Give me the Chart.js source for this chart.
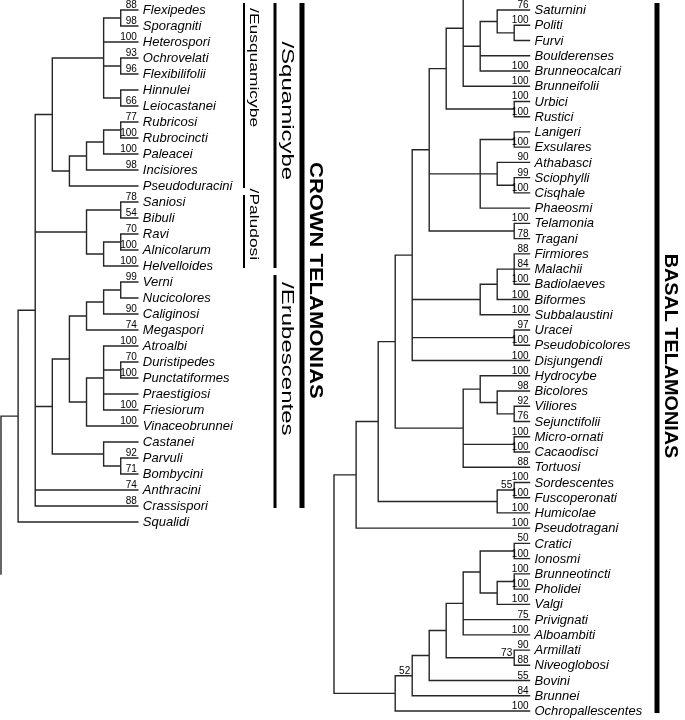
<!DOCTYPE html>
<html><head><meta charset="utf-8">
<script src="https://cdn.jsdelivr.net/npm/chart.js@4.4.1/dist/chart.umd.min.js"></script>
<style>html,body{margin:0;padding:0;background:#fff;}#wrap{width:685px;height:720px;position:relative;}</style>
</head><body><div id="wrap"><canvas id="c" width="685" height="720"></canvas></div>
<script>
// ---------- DATA ----------
const leftTaxa = ["Flexipedes","Sporagniti","Heterospori","Ochrovelati","Flexibilifolii","Hinnulei","Leiocastanei","Rubricosi","Rubrocincti","Paleacei","Incisiores","Pseudoduracini","Saniosi","Bibuli","Ravi","Alnicolarum","Helvelloides","Verni","Nucicolores","Caliginosi","Megaspori","Atroalbi","Duristipedes","Punctatiformes","Praestigiosi","Friesiorum","Vinaceobrunnei","Castanei","Parvuli","Bombycini","Anthracini","Crassispori","Squalidi"];
const leftSupport = [88,98,100,93,96,null,66,77,100,100,98,null,78,54,70,100,100,99,null,90,74,100,70,100,null,100,100,null,92,71,74,88,null];
// node = [depth, nodeSupport, ...children]; child = leaf index, sub-node, or {off: leaf position} (branch leaving the panel)
const leftTree =
[0,null,
  [1,null,
    [2,null,
      [3,null,
        [6,null,[7,null,0,1],2,[7,null,3,4],[7,null,5,6]],
        [4,null,[5,null,[6,null,[7,null,7,8],9],10],11]],
      [5,null,[7,null,12,13],[6,null,[7,null,14,15],16]],
      [3,null,
        [4,null,
          [5,null,[6,null,[7,null,17,18],19],20],
          [5,null,[6,null,21,[7,null,22,23],24,25],26]],
        [6,null,27,[7,null,28,29]]],
      30,31],
    32],
  {off:35.25}];
const leftTipDepth = 8;

const rightTaxa = ["Saturnini","Politi","Furvi","Boulderenses","Brunneocalcari","Brunneifolii","Urbici","Rustici","Lanigeri","Exsulares","Athabasci","Sciophylli","Cisqhale","Phaeosmi","Telamonia","Tragani","Firmiores","Malachii","Badiolaeves","Biformes","Subbalaustini","Uracei","Pseudobicolores","Disjungendi","Hydrocybe","Bicolores","Viliores","Sejunctifolii","Micro-ornati","Cacaodisci","Tortuosi","Sordescentes","Fuscoperonati","Humicolae","Pseudotragani","Cratici","Ionosmi","Brunneotincti","Pholidei","Valgi","Privignati","Alboambiti","Armillati","Niveoglobosi","Bovini","Brunnei","Ochropallescentes"];
const rightSupport = [76,100,null,null,100,100,100,100,null,100,90,99,100,null,100,78,88,84,100,100,100,97,100,100,100,98,92,76,100,100,88,100,100,100,100,50,100,100,100,100,75,100,90,88,55,84,100];
const rightTree =
[0,null,
  [1.3,null,
    [2.6,null,
      [3.6,null,
        [4.6,null,
          [5.6,null,
            [6.6,null,
              [7.6,null,{off:-2.6},
                [8.6,null,[9.6,null,0,[10.6,null,1,2]],3,4],
                5],
              [10.6,null,6,7]],
            [8.6,null,[10.6,null,8,9],[9.6,null,10,[10.6,null,11,12]],13],
            [10.6,null,14,15]],
          [8.6,null,[9.6,null,[10.6,null,16,17,18],19],20],
          [10.6,null,21,22],
          23],
        [7.6,null,
          [8.6,null,24,[9.6,null,25,[10.6,null,26,27]]],
          [10.6,null,28,29],
          30]],
      [9.6,null,[10.6,55,31,32],33]],
    34],
  [3.6,null,
    [4.6,52,
      [5.6,null,
        [6.6,null,
          [7.6,null,
            [8.6,null,[10.6,null,35,36],[9.6,null,[10.6,null,37,38],39]],
            40,41],
          [10.6,73,42,43]],
        44],
      45],
    46]];
const rightTipDepth = 11.5;

// clade bars: name, first leaf, last leaf
const leftClades = [
  {name:"/Eusquamicybe", first:0, last:11, level:1},
  {name:"/Paludosi", first:12, last:16, level:1},
  {name:"/Squamicybe", first:0, last:16, level:2},
  {name:"/Erubescentes", first:17, last:31, level:2},
  {name:"CROWN TELAMONIAS", first:0, last:31, level:3}
];
const rightClades = [
  {name:"BASAL TELAMONIAS", first:0, last:46, level:3}
];

// ---------- LAYOUT (from the data) ----------
function layout(tree, tipDepth){
  const segs = [], nodeLabels = [];
  function walk(n){
    if (typeof n === 'number') return {y:n, d:tipDepth};
    if (n.off !== undefined) return {y:n.off, d:null, off:true};
    const d = n[0], sup = n[1];
    const kids = n.slice(2).map(walk);
    const ys = kids.map(k=>k.y);
    const y = (kids[0].y + kids[kids.length-1].y)/2;
    segs.push({x:d,y:Math.min(...ys)},{x:d,y:Math.max(...ys)},{x:null,y:null});
    kids.forEach(k=>{ if(!k.off) segs.push({x:d,y:k.y},{x:k.d,y:k.y},{x:null,y:null}); });
    if (sup !== null) nodeLabels.push({d:d, y:y, text:String(sup)});
    return {y:y, d:d};
  }
  walk(tree);
  return {segs, nodeLabels};
}
const L = layout(leftTree, leftTipDepth);
const R = layout(rightTree, rightTipDepth);

// ---------- DRAW ----------
const LINE = '#262626';
const FONT = '"Liberation Sans", Arial, sans-serif';
const cladeStyle = {
  left: {1:{bar:244,w:2,base:250,size:12,weight:'normal',stretch:1.45},
         2:{bar:275,w:3,base:282,size:16,weight:'normal',stretch:1.5},
         3:{bar:302,w:5,base:310,size:18,weight:'bold',stretch:1.22}},
  right:{3:{bar:657,w:5,base:665,size:18,weight:'bold',stretch:1.1}}
};
const labelCenter = {"/Eusquamicybe":3.6,"/Paludosi":13.4,"/Squamicybe":6.3,"/Erubescentes":21.8,"CROWN TELAMONIAS":16.9,"BASAL TELAMONIAS":22.7};

function drawSide(ctx, xs, ys, lay, taxa, support, tipDepth, clades, style){
  const tipX = xs.getPixelForValue(tipDepth);
  ctx.save();
  ctx.fillStyle = '#000';
  ctx.textBaseline = 'middle';
  ctx.textAlign = 'left';
  ctx.font = 'italic 13px ' + FONT;
  taxa.forEach((t,i)=>{ ctx.fillText(t, tipX + 5, ys.getPixelForValue(i) + 0.5); });
  ctx.font = '10px ' + FONT;
  ctx.textAlign = 'right';
  ctx.textBaseline = 'alphabetic';
  support.forEach((s,i)=>{ if(s!==null) ctx.fillText(String(s), tipX - 1, ys.getPixelForValue(i) - 2); });
  lay.nodeLabels.forEach(nl=>{ ctx.fillText(nl.text, xs.getPixelForValue(nl.d) - 2, ys.getPixelForValue(nl.y) - 2); });
  // clade bars
  clades.forEach(c=>{
    const st = style[c.level];
    const y0 = ys.getPixelForValue(c.first) - 7, y1 = ys.getPixelForValue(c.last) + 2;
    ctx.fillStyle = '#000';
    ctx.fillRect(st.bar - st.w/2, y0, st.w, y1 - y0);
    const cy = ys.getPixelForValue(labelCenter[c.name]);
    ctx.save();
    ctx.translate(st.base, cy);
    ctx.rotate(Math.PI/2);
    ctx.scale(st.stretch, 1);
    ctx.font = st.weight + ' ' + st.size + 'px ' + FONT;
    ctx.textAlign = 'center';
    ctx.textBaseline = 'alphabetic';
    ctx.fillText(c.name, 0, 0);
    ctx.restore();
  });
  ctx.restore();
}

const treePlugin = {
  id:'treeText',
  afterDatasetsDraw(chart){
    const s = chart.scales;
    drawSide(chart.ctx, s.xL, s.yL, L, leftTaxa, leftSupport, leftTipDepth, leftClades, cladeStyle.left);
    drawSide(chart.ctx, s.xR, s.yR, R, rightTaxa, rightSupport, rightTipDepth, rightClades, cladeStyle.right);
  }
};

const lineStyle = {showLine:true, borderColor:LINE, borderWidth:1.4, pointRadius:0, pointHoverRadius:0, spanGaps:false, borderCapStyle:'square', tension:0};
new Chart(document.getElementById('c'), {
  type:'scatter',
  data:{datasets:[
    Object.assign({label:'crown', data:L.segs, xAxisID:'xL', yAxisID:'yL'}, lineStyle),
    Object.assign({label:'basal', data:R.segs, xAxisID:'xR', yAxisID:'yR'}, lineStyle)
  ]},
  options:{
    responsive:false, animation:false, devicePixelRatio:1,
    layout:{padding:0},
    events:[],
    plugins:{legend:{display:false}, tooltip:{enabled:false}},
    scales:{
      xL:{type:'linear', axis:'x', display:false, min:-0.0585, max:39.99},
      yL:{type:'linear', axis:'y', display:false, reverse:true, min:-0.625, max:44.375},
      xR:{type:'linear', axis:'x', display:false, min:-19.647, max:20.647},
      yR:{type:'linear', axis:'y', display:false, reverse:true, min:-0.656, max:46.588}
    }
  },
  plugins:[treePlugin]
});
</script>
</body></html>
